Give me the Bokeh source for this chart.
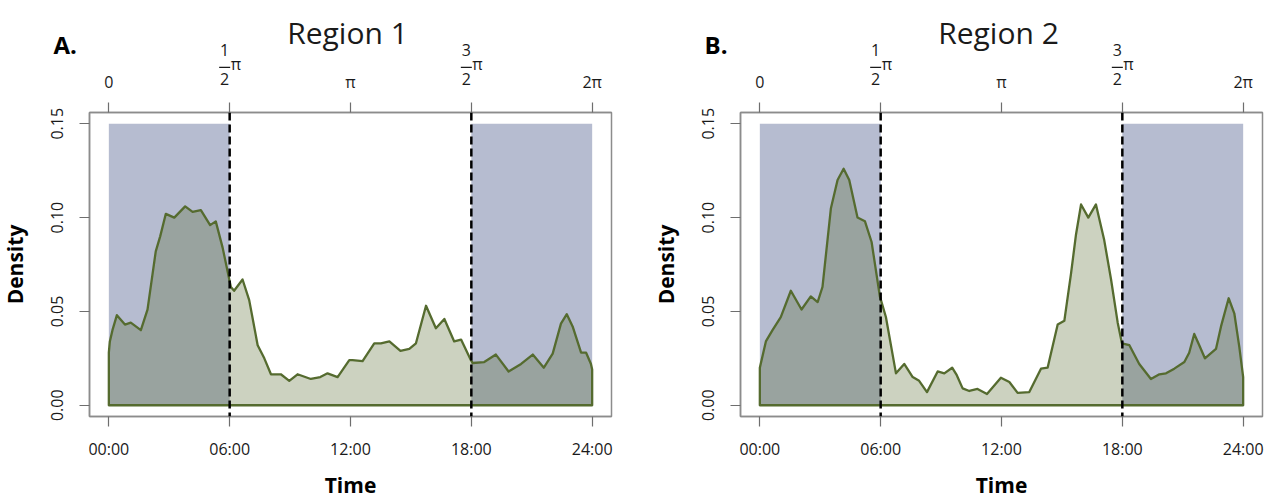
import math
from bokeh.plotting import figure
from bokeh.models import Range1d, LinearAxis, FixedTicker, Span, GridBox
from bokeh.core.properties import value
from bokeh.embed import file_html
from bokeh.resources import INLINE

# ---------------- data ----------------
hours_r1 = [0, 0.05, 0.18, 0.4, 0.8, 1.09, 1.59, 1.92, 2.33, 2.55, 2.83, 3.25, 3.79, 4.16,
            4.57, 5.03, 5.31, 5.65, 6.06, 6.22, 6.64, 6.97, 7.39, 7.72, 8.05, 8.54, 8.96,
            9.37, 10.03, 10.5, 10.86, 11.36, 11.94, 12.1, 12.6, 13.18, 13.51, 13.93, 14.48,
            14.92, 15.25, 15.75, 16.24, 16.66, 17.15, 17.49, 17.98, 18.07, 18.64, 19.22,
            19.85, 20.47, 21.05, 21.6, 22.04, 22.45, 22.74, 23.03, 23.45, 23.7, 23.94, 24.0]
density_r1 = [0.028, 0.034, 0.040, 0.048, 0.043, 0.044, 0.040, 0.051, 0.082, 0.090, 0.102,
              0.100, 0.106, 0.103, 0.104, 0.096, 0.098, 0.084, 0.063, 0.061, 0.067, 0.056,
              0.032, 0.025, 0.0165, 0.0165, 0.013, 0.0165, 0.014, 0.015, 0.017, 0.015, 0.024,
              0.024, 0.0235, 0.033, 0.033, 0.034, 0.029, 0.030, 0.033, 0.053, 0.041, 0.046,
              0.034, 0.035, 0.024, 0.0225, 0.023, 0.027, 0.018, 0.022, 0.027, 0.020, 0.0275,
              0.0435, 0.0485, 0.042, 0.028, 0.028, 0.022, 0.019]

hours_r2 = [0, 0.3, 0.63, 1.04, 1.54, 2.07, 2.53, 2.87, 3.11, 3.53, 3.86, 4.16, 4.44, 4.85,
            5.22, 5.55, 5.96, 6.26, 6.76, 7.17, 7.59, 7.91, 8.3, 8.83, 9.16, 9.55, 9.78,
            10.07, 10.4, 10.81, 11.28, 11.97, 12.39, 12.8, 13.38, 13.96, 14.29, 14.79, 15.12,
            15.45, 15.7, 15.95, 16.31, 16.69, 17.1, 17.44, 17.77, 17.98, 18.35, 18.84, 19.42,
            19.84, 20.17, 20.58, 21.08, 21.32, 21.57, 21.82, 22.1, 22.65, 22.9, 23.28, 23.56,
            23.81, 24.0]
density_r2 = [0.020, 0.034, 0.040, 0.047, 0.061, 0.051, 0.058, 0.055, 0.063, 0.105, 0.120,
              0.126, 0.120, 0.100, 0.098, 0.087, 0.058, 0.047, 0.017, 0.022, 0.015, 0.013,
              0.007, 0.018, 0.017, 0.020, 0.016, 0.009, 0.0076, 0.0087, 0.006, 0.0147, 0.0124,
              0.0066, 0.007, 0.0195, 0.020, 0.043, 0.045, 0.070, 0.091, 0.107, 0.100, 0.107,
              0.088, 0.067, 0.044, 0.033, 0.032, 0.022, 0.014, 0.0165, 0.017, 0.0195, 0.023,
              0.028, 0.038, 0.032, 0.025, 0.030, 0.042, 0.057, 0.049, 0.031, 0.015]

tick_hours = [0, 6, 12, 18, 24]
time_labels = ["00:00", "06:00", "12:00", "18:00", "24:00"]
radian_labels = ["0", "", "π", "", "2π"]
frac_hours = [6, 18]
frac_numerators = ["1", "3"]
frac_denominators = ["2", "2"]
density_ticks = [0, 0.05, 0.10, 0.15]
density_labels = ["0.00", "0.05", "0.10", "0.15"]
night_start = [0, 18]
night_end = [6, 24]
night_top = 0.15
dawn_dusk = [6, 18]
panel_titles = ["Region 1", "Region 2"]
panel_letters = ["A.", "B."]

# ---------------- styling ----------------
FONT = "Open Sans"
TXT = "#1a1a1a"
FRAME = "#8c8c8c"
TICK = "#6e6e6e"
OLIVE = "#556B2F"
NIGHT = "#b6bcd0"

X0, X1 = -0.96, 24.96
Y0, Y1 = -0.006, 0.156
TOP = 112          # border top (px)
FH = 304           # frame height
H = 498
W_A, W_B = 650, 619
BL_A, BR_A = 89, 39
BL_B, BR_B = 90, 7
SHIFT = 9          # correction between requested and drawn text baseline


def no_align(fig):
    if "frame_align" in fig.properties():
        fig.frame_align = False


def make_panel(hours, dens, width, bl, br):
    p = figure(width=width, height=H, x_range=Range1d(X0, X1), y_range=Range1d(Y0, Y1),
               output_backend="svg", toolbar_location=None, title=None,
               min_border_left=bl, min_border_right=br, min_border_top=TOP,
               min_border_bottom=H - TOP - FH)
    no_align(p)
    p.xgrid.visible = False
    p.ygrid.visible = False
    p.outline_line_color = FRAME
    p.outline_line_width = 1.5
    p.background_fill_color = "white"
    p.border_fill_color = "white"

    top_axis = LinearAxis()
    p.add_layout(top_axis, "above")
    xb = p.below[0]
    yl = p.left[0]

    for ax in [xb, yl, top_axis]:
        ax.axis_line_color = FRAME
        ax.axis_line_width = 1.5
        ax.major_tick_line_color = TICK
        ax.major_tick_line_width = 1.2
        ax.major_tick_in = 0
        ax.major_tick_out = 10
        ax.minor_tick_line_color = None
        ax.major_label_text_font = FONT
        ax.major_label_text_font_size = "16px"
        ax.major_label_text_color = TXT

    xb.ticker = FixedTicker(ticks=tick_hours)
    xb.major_label_overrides = {h: l for h, l in zip(tick_hours, time_labels)}
    xb.major_label_standoff = 11

    top_axis.ticker = FixedTicker(ticks=tick_hours)
    top_axis.major_label_overrides = {h: l for h, l in zip(tick_hours, radian_labels)}
    top_axis.major_label_standoff = 10

    yl.ticker = FixedTicker(ticks=density_ticks)
    yl.major_label_overrides = {t: l for t, l in zip(density_ticks, density_labels)}
    yl.major_label_orientation = "vertical"
    yl.major_label_standoff = 16

    # night shading
    p.quad(left=night_start, right=night_end, bottom=0, top=night_top,
           fill_color=NIGHT, line_color=None)

    # density polygon
    xs = [hours[0]] + list(hours) + [hours[-1]]
    ys = [0] + list(dens) + [0]
    p.patch(xs, ys, fill_color=OLIVE, fill_alpha=0.3, line_color=OLIVE, line_width=2.3,
            line_join="round")

    for loc in dawn_dusk:
        p.add_layout(Span(location=loc, dimension="height", line_color="black",
                          line_width=2.5, line_dash="8 4"))
    return p


pa = make_panel(hours_r1, density_r1, W_A, BL_A, BR_A)
pb = make_panel(hours_r2, density_r2, W_B, BL_B, BR_B)

# ---------------- transparent text overlay (page pixel coordinates) ----------------
WT = W_A + W_B
ov = figure(width=WT, height=H, x_range=Range1d(0, WT), y_range=Range1d(H, 0),
            output_backend="svg", toolbar_location=None, title=None,
            x_axis_location=None, y_axis_location=None,
            min_border=0, min_border_left=0, min_border_right=0,
            min_border_top=0, min_border_bottom=0)
no_align(ov)
ov.grid.visible = False
ov.outline_line_color = None
ov.background_fill_color = None
ov.border_fill_color = None
ov.background_fill_alpha = 0
ov.border_fill_alpha = 0


def txt(x, y, t, align="center", size="16px", style="normal", color=TXT, angle=0.0):
    if angle:
        x = x - SHIFT
    else:
        y = y - SHIFT
    ov.text(x=[x], y=[y], text=[t], text_align=align, text_baseline="alphabetic",
            text_font=value(FONT), text_font_size=size, text_font_style=style,
            text_color=color, angle=angle)


for left0, width, bl, br, title, letter in [(0, W_A, BL_A, BR_A, panel_titles[0], panel_letters[0]),
                                            (W_A, W_B, BL_B, BR_B, panel_titles[1], panel_letters[1])]:
    fl = left0 + bl
    fw = width - bl - br
    pxh = fw / (X1 - X0)

    def cx(h):
        return fl + (h - X0) * pxh

    for h, num, den in zip(frac_hours, frac_numerators, frac_denominators):
        txt(cx(h) - 5, 58, num)
        txt(cx(h) - 5, 87, den)
        txt(cx(h) + 1, 72, "π", align="left")
        ov.segment(x0=[cx(h) - 10.5], y0=[66.8], x1=[cx(h) + 0.5], y1=[66.8],
                   line_color=TXT, line_width=1.2)

    txt(cx(12) - 3, 41, title, size="30px")
    txt(fl - 36, 53, letter, align="left", size="24px", style="bold", color="black")
    txt(cx(12), 493, "Time", size="21px", style="bold", color="black")
    txt(fl - 65.7, TOP + FH / 2, "Density", size="21px", style="bold", color="black",
        angle=math.pi / 2)

layout = GridBox(children=[(pa, 0, 0), (pb, 0, 1), (ov, 0, 0, 1, 2)])
open("out.html", "w").write(file_html(layout, INLINE))
